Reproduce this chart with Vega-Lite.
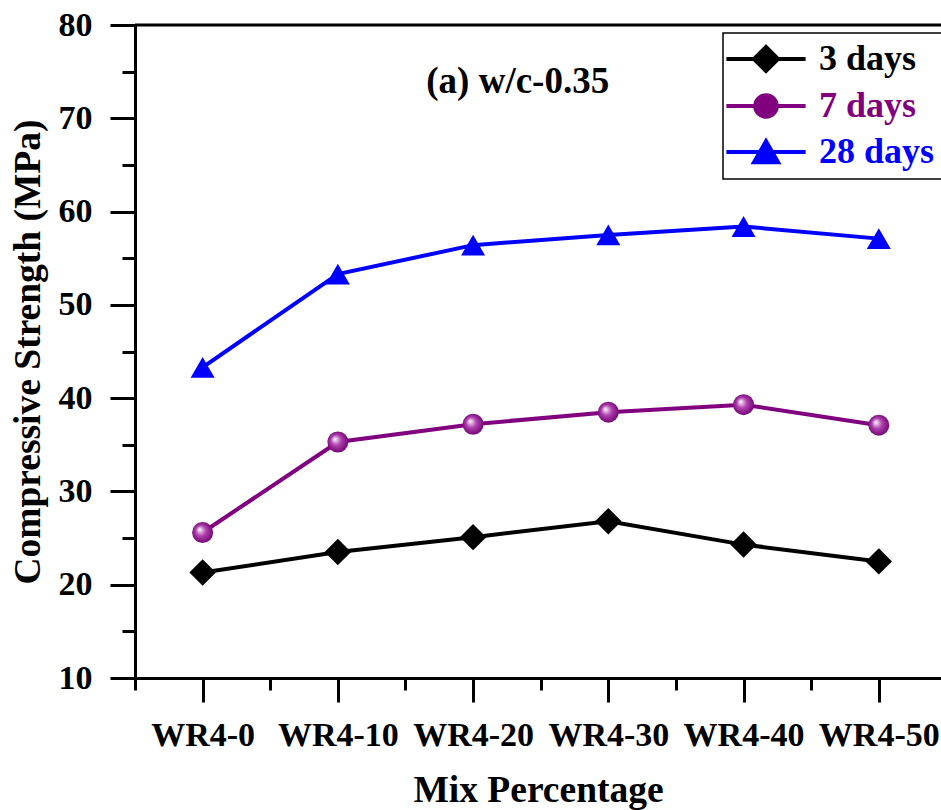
{
  "$schema": "https://vega.github.io/schema/vega-lite/v6.json",
  "width": 806,
  "height": 653,
  "autosize": "none",
  "padding": {"left": 135, "top": 25, "right": 0, "bottom": 132},
  "background": "white",
  "config": {"view": {"stroke": null}, "font": "Liberation Serif"},
  "data": {
    "values": [
      {"mix": 0, "series": "3 days", "strength": 21.3},
      {"mix": 10, "series": "3 days", "strength": 23.5},
      {"mix": 20, "series": "3 days", "strength": 25.1},
      {"mix": 30, "series": "3 days", "strength": 26.8},
      {"mix": 40, "series": "3 days", "strength": 24.3},
      {"mix": 50, "series": "3 days", "strength": 22.5},
      {"mix": 0, "series": "7 days", "strength": 25.6},
      {"mix": 10, "series": "7 days", "strength": 35.3},
      {"mix": 20, "series": "7 days", "strength": 37.2},
      {"mix": 30, "series": "7 days", "strength": 38.5},
      {"mix": 40, "series": "7 days", "strength": 39.3},
      {"mix": 50, "series": "7 days", "strength": 37.1},
      {"mix": 0, "series": "28 days", "strength": 43.3},
      {"mix": 10, "series": "28 days", "strength": 53.3},
      {"mix": 20, "series": "28 days", "strength": 56.4},
      {"mix": 30, "series": "28 days", "strength": 57.5},
      {"mix": 40, "series": "28 days", "strength": 58.4},
      {"mix": 50, "series": "28 days", "strength": 57.1}
    ]
  },
  "layer": [
    {
      "data": {"values": [{"top": 80}]},
      "mark": {"type": "rule", "color": "black", "strokeWidth": 3},
      "encoding": {"y": {"field": "top", "type": "quantitative", "title": "Compressive Strength (MPa)"}}
    },
    {
      "mark": {"type": "line", "strokeWidth": 4},
      "encoding": {
        "x": {
          "field": "mix", "type": "quantitative", "title": "Mix Percentage",
          "scale": {"domain": [-5, 54.6], "nice": false, "zero": false},
          "axis": {
            "values": [-5, 0, 5, 10, 15, 20, 25, 30, 35, 40, 45, 50],
            "labelExpr": "(datum.value % 10 === 0 && datum.value >= 0) ? 'WR4-' + datum.value : ''",
            "tickSize": {"condition": {"test": "datum.value % 10 !== 0", "value": 12}, "value": 24},
            "tickWidth": 3, "tickColor": "black",
            "domainColor": "black", "domainWidth": 3,
            "grid": false,
            "labelFont": "Liberation Serif", "labelFontWeight": "bold", "labelFontSize": 34,
            "labelColor": "black", "labelPadding": 16, "labelFlush": false, "labelOverlap": false,
            "titleFont": "Liberation Serif", "titleFontWeight": "bold", "titleFontSize": 37.5,
            "titleColor": "black", "titlePadding": 19
          }
        },
        "y": {
          "field": "strength", "type": "quantitative", "title": "Compressive Strength (MPa)",
          "scale": {"domain": [10, 80], "nice": false, "zero": false},
          "axis": {
            "values": [10, 15, 20, 25, 30, 35, 40, 45, 50, 55, 60, 65, 70, 75, 80],
            "labelExpr": "datum.value % 10 === 0 ? datum.label : ''",
            "tickSize": {"condition": {"test": "datum.value % 10 !== 0", "value": 13}, "value": 25},
            "tickWidth": 3, "tickColor": "black",
            "domainColor": "black", "domainWidth": 3,
            "grid": false,
            "labelFont": "Liberation Serif", "labelFontWeight": "bold", "labelFontSize": 34,
            "labelColor": "black", "labelPadding": 18, "labelOverlap": false,
            "titleFont": "Liberation Serif", "titleFontWeight": "bold", "titleFontSize": 37.5,
            "titleColor": "black", "titlePadding": 11
          }
        },
        "color": {
          "field": "series", "type": "nominal",
          "scale": {"domain": ["3 days", "7 days", "28 days"], "range": ["#000000", "#800080", "#0000ff"]},
          "legend": {
            "orient": "none", "legendX": 588, "legendY": 8,
            "title": null,
            "strokeColor": "black", "padding": 8,
            "labelFont": "Liberation Serif", "labelFontWeight": "bold", "labelFontSize": 36,
            "symbolSize": 576, "symbolStrokeWidth": 4,
            "symbolOffset": 17, "labelOffset": 35, "rowPadding": 8,
            "encode": {
              "legend": {"update": {"strokeWidth": {"value": 1.5}}},
              "symbols": {
                "update": {
                  "shape": {"signal": "datum.value === '3 days' ? 'M-3.3,0H3.3M0,-1L1,0L0,1L-1,0Z' : datum.value === '7 days' ? 'M-3.3,0H-0.9M0.9,0H3.3M-0.9,0A0.9,0.9 0 1,0 0.9,0A0.9,0.9 0 1,0 -0.9,0Z' : 'M-3.3,0H3.3M0,-0.9L1,0.85L-1,0.85Z'"},
                  "fill": {"signal": "scale('color', datum.value)"},
                  "stroke": {"signal": "scale('color', datum.value)"},
                  "strokeWidth": {"value": 4},
                  "opacity": {"value": 1}
                }
              },
              "labels": {
                "update": {"fill": {"signal": "scale('color', datum.value)"}}
              }
            }
          }
        }
      }
    },
    {
      "transform": [{"filter": "datum.series === '3 days'"}],
      "mark": {"type": "point", "shape": "diamond", "size": 700, "filled": true, "color": "#000000", "opacity": 1, "strokeWidth": 0},
      "encoding": {
        "x": {"field": "mix", "type": "quantitative", "title": "Mix Percentage"},
        "y": {"field": "strength", "type": "quantitative", "title": "Compressive Strength (MPa)"}
      }
    },
    {
      "transform": [{"filter": "datum.series === '7 days'"}],
      "mark": {
        "type": "point", "shape": "circle", "size": 441, "filled": true, "opacity": 1, "strokeWidth": 0,
        "fill": {
          "gradient": "radial", "x1": 0.35, "y1": 0.35, "r1": 0, "x2": 0.5, "y2": 0.5, "r2": 0.55,
          "stops": [
            {"offset": 0, "color": "#ffffff"},
            {"offset": 0.45, "color": "#b040b0"},
            {"offset": 1, "color": "#6a006a"}
          ]
        }
      },
      "encoding": {
        "x": {"field": "mix", "type": "quantitative", "title": "Mix Percentage"},
        "y": {"field": "strength", "type": "quantitative", "title": "Compressive Strength (MPa)"}
      }
    },
    {
      "transform": [{"filter": "datum.series === '28 days'"}],
      "mark": {"type": "point", "shape": "triangle-up", "size": 576, "filled": true, "color": "#0000ff", "opacity": 1, "strokeWidth": 0},
      "encoding": {
        "x": {"field": "mix", "type": "quantitative", "title": "Mix Percentage"},
        "y": {"field": "strength", "type": "quantitative", "title": "Compressive Strength (MPa)"}
      }
    },
    {
      "data": {"values": [{"note": "(a) w/c-0.35", "nx": 23.3, "ny": 73.9}]},
      "mark": {"type": "text", "font": "Liberation Serif", "fontWeight": "bold", "fontSize": 37, "color": "black"},
      "encoding": {
        "text": {"field": "note"},
        "x": {"field": "nx", "type": "quantitative", "title": "Mix Percentage"},
        "y": {"field": "ny", "type": "quantitative", "title": "Compressive Strength (MPa)"}
      }
    }
  ]
}
